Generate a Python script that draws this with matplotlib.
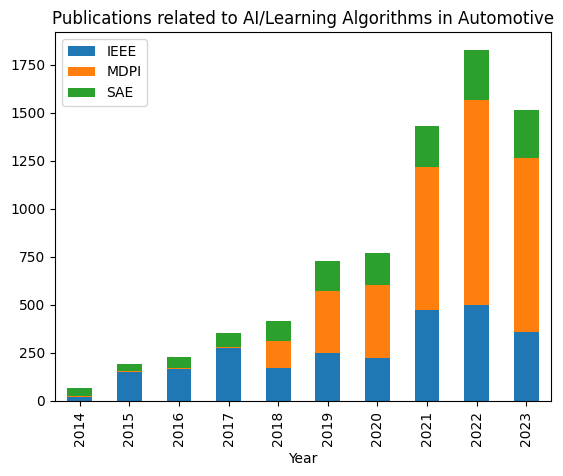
import matplotlib
matplotlib.use("Agg")
import matplotlib.pyplot as plt
import numpy as np

years = ["2014", "2015", "2016", "2017", "2018", "2019", "2020", "2021", "2022", "2023"]
ieee = [20, 151, 167, 276, 172, 249, 223, 473, 499, 358]
mdpi = [6, 5, 5, 5, 140, 322, 379, 742, 1069, 905]
sae = [42, 37, 57, 73, 104, 156, 167, 218, 260, 253]

fig = plt.figure(figsize=(5.63, 4.76), dpi=100)
ax = fig.add_axes([55/563, 1 - 401/476, (551-55)/563, (401-32)/476])
x = np.arange(len(years))
w = 0.5
ieee_a = np.array(ieee); mdpi_a = np.array(mdpi); sae_a = np.array(sae)
ax.bar(x, ieee_a, w, label="IEEE", color="#1f77b4")
ax.bar(x, mdpi_a, w, bottom=ieee_a, label="MDPI", color="#ff7f0e")
ax.bar(x, sae_a, w, bottom=ieee_a + mdpi_a, label="SAE", color="#2ca02c")
ax.set_xticks(x)
ax.set_xticklabels(years, rotation=90)
ax.set_xlim(-0.5, len(years) - 0.5)
ax.set_xlabel("Year")
ax.set_title("Publications related to AI/Learning Algorithms in Automotive")
ax.legend(loc="upper left")
fig.savefig("out.png", dpi=100)
